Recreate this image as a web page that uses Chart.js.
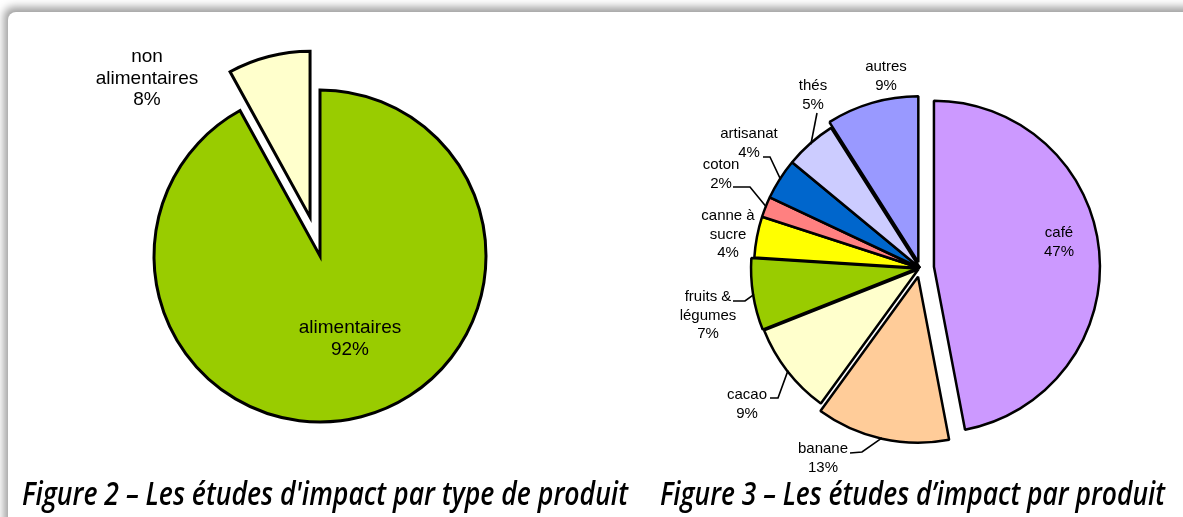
<!DOCTYPE html>
<html>
<head>
<meta charset="utf-8">
<script src="https://cdn.jsdelivr.net/npm/chart.js@4.4.1/dist/chart.umd.min.js"></script>
<style>
html, body { margin:0; padding:0; width:1183px; height:517px; overflow:hidden; background:#fff; position:relative; }
#frame { position:absolute; left:8px; top:12px; width:1400px; height:800px; background:#fff; border-radius:8px;
         box-shadow:-3px -4px 8px 1px rgba(0,0,0,0.38); }
canvas { position:absolute; }
.cap { position:absolute; font-family:'Open Sans', sans-serif; font-style:italic; font-weight:600; font-size:33px;
       line-height:33px; color:#000; white-space:nowrap; transform-origin:0 0; }
</style>
</head>
<body>
<div id="frame"></div>
<canvas id="left" width="640" height="512" style="left:0;top:0"></canvas>
<canvas id="right" width="560" height="536" style="left:640px;top:0"></canvas>
<div class="cap" id="cap1"></div>
<div class="cap" id="cap2"></div>
<script>
// ---------- data ----------
const leftCategories = ['alimentaires', 'non alimentaires'];
const leftValues = [92, 8];
const rightCategories = ['café', 'banane', 'cacao', 'fruits & légumes', 'canne à sucre', 'coton', 'artisanat', 'thés', 'autres'];
const rightValues = [47, 13, 9, 7, 4, 2, 4, 5, 9];
const captionTexts = ["Figure 2 – Les études d'impact par type de produit", "Figure 3 – Les études d’impact par produit"];

// ---------- styles / layout ----------
const leftColors = ['#99CC00', '#FFFFCC'];
const rightColors = ['#CC99FF', '#FFCC99', '#FFFFCC', '#99CC00', '#FFFF00', '#FF8080', '#0066CC', '#CCCCFF', '#9999FF'];
const leftExplode = [0, 40];
const rightExplode = [14, 9, 2, 3, 0, 0, 0, 0, 6];
// label layout (page coords): centre x, first line y, words on first line, leader stub
const leftLabelLayout = [
  {x: 350, y: 328, split: 0},
  {x: 147, y: 57, split: 1}
];
const rightLabelLayout = [
  {x: 1059, y: 233, split: 0},
  {x: 823, y: 449, split: 0, stub: [850, 453, 862, 452]},
  {x: 747, y: 395, split: 0, stub: [770, 398, 778, 398]},
  {x: 708, y: 297, split: 2, stub: [733, 301, 745, 301]},
  {x: 728, y: 216, split: 2},
  {x: 721, y: 165, split: 0, stub: [733, 187, 750, 187]},
  {x: 749, y: 134, split: 0, stub: [763, 157, 770, 157]},
  {x: 813, y: 86, split: 0, stub: [817, 113, 817, 113]},
  {x: 886, y: 67, split: 0}
];

function explodePlugin(dist) {
  return {
    id: 'explodeSlices',
    afterDatasetUpdate(chart, args) {
      args.meta.data.forEach((arc, i) => {
        const d = dist[i] || 0;
        if (!d) return;
        const mid = (arc.startAngle + arc.endAngle) / 2;
        arc.x += Math.cos(mid) * d;
        arc.y += Math.sin(mid) * d;
      });
    }
  };
}

function labelPlugin(layout, origin, font, lineH) {
  return {
    id: 'pieLabels',
    afterDatasetsDraw(chart) {
      const ctx = chart.ctx;
      const meta = chart.getDatasetMeta(0);
      const data = chart.data.datasets[0].data;
      const total = data.reduce((a, b) => a + b, 0);
      const ox = origin[0], oy = origin[1];
      ctx.save();
      ctx.font = font;
      ctx.fillStyle = '#000';
      ctx.textAlign = 'center';
      ctx.textBaseline = 'middle';
      layout.forEach((L, i) => {
        const name = chart.data.labels[i];
        const words = name.split(' ');
        const lines = L.split ? [words.slice(0, L.split).join(' '), words.slice(L.split).join(' ')] : [name];
        lines.push(Math.round(data[i] / total * 100) + '%');
        lines.forEach((t, k) => ctx.fillText(t, L.x - ox, L.y - oy + k * lineH));
        if (L.stub) {
          const arc = meta.data[i];
          const mid = (arc.startAngle + arc.endAngle) / 2;
          const ex = arc.x + Math.cos(mid) * (arc.outerRadius - 1);
          const ey = arc.y + Math.sin(mid) * (arc.outerRadius - 1);
          ctx.beginPath();
          ctx.moveTo(L.stub[0] - ox, L.stub[1] - oy);
          ctx.lineTo(L.stub[2] - ox, L.stub[3] - oy);
          ctx.lineTo(ex, ey);
          ctx.lineWidth = 1.6;
          ctx.strokeStyle = '#000';
          ctx.lineJoin = 'miter';
          ctx.stroke();
        }
      });
      ctx.restore();
    }
  };
}

function makePie(id, labels, values, colors, explode, layout, origin, radius, border, join, font, lineH) {
  return new Chart(document.getElementById(id), {
    type: 'pie',
    data: {
      labels: labels,
      datasets: [{
        data: values,
        backgroundColor: colors,
        borderColor: '#000',
        borderWidth: border,
        borderJoinStyle: join
      }]
    },
    options: {
      responsive: false,
      animation: false,
      radius: radius,
      rotation: 0,
      layout: { padding: 0 },
      plugins: { legend: { display: false }, tooltip: { enabled: false } }
    },
    plugins: [explodePlugin(explode), labelPlugin(layout, origin, font, lineH)]
  });
}

makePie('left', leftCategories, leftValues, leftColors, leftExplode, leftLabelLayout, [0, 0], 166, 3, 'miter',
        '19px "Liberation Sans", Arial, sans-serif', 21.5);
makePie('right', rightCategories, rightValues, rightColors, rightExplode, rightLabelLayout, [640, 0], 166, 2.5, 'bevel',
        '15px "Liberation Sans", Arial, sans-serif', 18.5);

// captions
const capSpecs = [
  {el: 'cap1', left: 22, right: 628, baseline: 505},
  {el: 'cap2', left: 660, right: 1165, baseline: 505}
];
capSpecs.forEach((c, i) => {
  const d = document.getElementById(c.el);
  d.textContent = captionTexts[i];
  d.style.left = c.left + 'px';
  d.style.top = (c.baseline - Math.round(33 * 0.888)) + 'px';
  const w = d.getBoundingClientRect().width;
  d.style.transform = 'scaleX(' + ((c.right - c.left) / w) + ')';
});
</script>
</body>
</html>
